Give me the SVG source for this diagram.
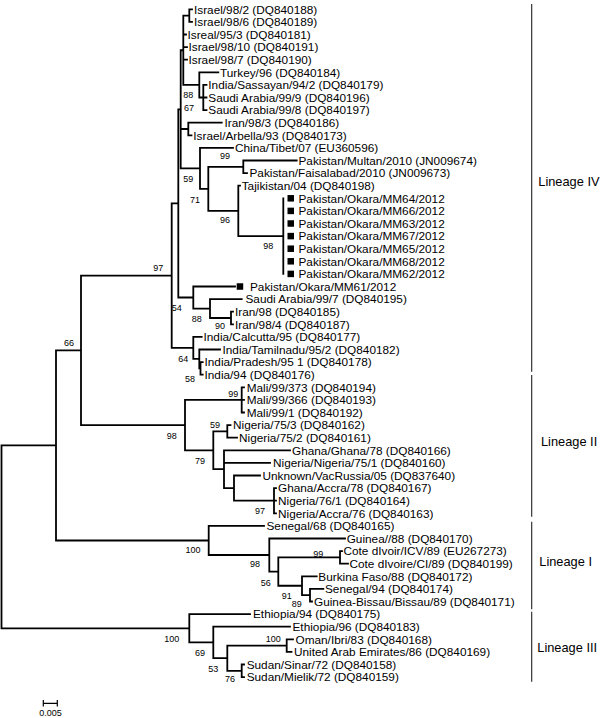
<svg xmlns="http://www.w3.org/2000/svg" width="600" height="718" viewBox="0 0 600 718">
<style>
.lf{font-family:"Liberation Sans",Arial,sans-serif;font-size:11.8px;fill:#000}
.bs{font-family:"Liberation Sans",Arial,sans-serif;font-size:9px;fill:#000;text-anchor:middle}
.ln{font-family:"Liberation Sans",Arial,sans-serif;font-size:12.8px;fill:#000}
.tree{fill:none;stroke:#000;stroke-width:1.8;stroke-linecap:square}
.br{fill:none;stroke:#222;stroke-width:1.1}
.sq{fill:#000}
</style>
<rect width="600" height="718" fill="#fff"/>
<g id="connectors">
<path class="tree" d="
M1.5 445.45V628.3 M56 350.4V540.5 M81 275.65V425.1 M171.7 203.4V347.9 M178.3 109.3V297.5 M180.7 50.25V168.4
M183.3 15.6V84.9 M189.3 9.3V21.9 M199.3 72.3V97.5 M203.3 84.9V110.1 M188.3 122.7V135.3 M200 147.9V188.85
M208.3 166.8V210.9 M243.3 160.5V173.1 M238.3 185.7V236.1 M283.3 198.3V273.9 M193.3 286.5V308.55 M210 299.1V318
M231 311.7V324.3 M193.3 336.9V358.95 M199.3 349.5V368.4 M200.5 362.1V374.7 M185 399.9V450.3 M241.7 387.3V412.5
M213.3 431.4V469.2 M227.3 425.1V437.7 M224 450.3V488.1 M234 475.5V500.7 M274 488.1V513.3 M208.7 525.9V555
M269.3 538.5V571.6 M278.3 557.4V585.75 M340 551.1V563.7 M302 576.3V595.2 M310 588.9V601.5 M189.3 614.1V642.45
M213.3 626.7V658.2 M227.3 645.6V670.8 M286.7 639.3V651.9 M241.7 664.5V677.1
M1.5 445.45H56 M1.5 628.3H189.3 M56 350.4H81 M56 540.5H208.7 M81 275.65H171.7 M81 425.1H185
M171.7 203.4H178.3 M171.7 347.9H193.3 M178.3 109.3H180.7 M178.3 297.5H193.3 M180.7 50.25H183.3 M180.7 129H188.3 M180.7 168.4H200
M183.3 15.6H189.3 M189.3 9.3H192 M189.3 21.9H192 M183.3 34.5H186 M183.3 47.1H187 M183.3 59.7H187
M183.3 84.9H199.3 M199.3 72.3H218.3 M199.3 97.5H203.3 M203.3 84.9H206.5 M203.3 97.5H206.5 M203.3 110.1H206.5
M188.3 122.7H221.7 M188.3 135.3H191.5 M200 147.9H233 M200 188.85H208.3 M208.3 166.8H243.3 M243.3 160.5H296.7 M243.3 173.1H247
M208.3 210.9H238.3 M238.3 185.7H240 M238.3 236.1H283.3
M193.3 286.5H235 M193.3 308.55H210 M210 299.1H241.7 M210 318H231 M231 311.7H233 M231 324.3H233
M193.3 336.9H201.7 M193.3 358.95H199.3 M199.3 349.5H220 M199.3 368.4H200.5 M200.5 362.1H202.7 M200.5 374.7H202.7
M185 399.9H241.7 M241.7 387.3H244 M241.7 399.9H244 M241.7 412.5H244
M185 450.3H213.3 M213.3 431.4H227.3 M227.3 425.1H230.5 M227.3 437.7H237 M213.3 469.2H224
M224 450.3H290 M224 462.9H270 M224 488.1H234 M234 475.5H260 M234 500.7H274 M274 488.1H276 M274 500.7H276 M274 513.3H276
M208.7 525.9H264 M208.7 555H269.3 M269.3 538.5H345 M269.3 571.6H278.3 M278.3 557.4H340 M340 551.1H342 M340 563.7H348
M278.3 585.75H302 M302 576.3H316.7 M302 595.2H310 M310 588.9H323.3 M310 601.5H312
M189.3 614.1H250 M189.3 642.45H213.3 M213.3 626.7H290 M213.3 658.2H227.3 M227.3 645.6H286.7 M286.7 639.3H293 M286.7 651.9H291.5
M227.3 670.8H241.7 M241.7 664.5H244 M241.7 677.1H244"/>
</g>
<g id="leaves">
<g id="n0"><text class="lf" x="194" y="13.5">Israel/98/2 (DQ840188)</text></g>
<g id="n1"><text class="lf" x="194" y="26.1">Israel/98/6 (DQ840189)</text></g>
<g id="n2"><text class="lf" x="187.5" y="38.7">Isreal/95/3 (DQ840181)</text></g>
<g id="n3"><text class="lf" x="188.5" y="51.3">Israel/98/10 (DQ840191)</text></g>
<g id="n4"><text class="lf" x="188.5" y="63.9">Israel/98/7 (DQ840190)</text></g>
<g id="n5"><text class="lf" x="220" y="76.5">Turkey/96 (DQ840184)</text></g>
<g id="n6"><text class="lf" x="208.3" y="89.1">India/Sassayan/94/2 (DQ840179)</text></g>
<g id="n7"><text class="lf" x="208.3" y="101.7">Saudi Arabia/99/9 (DQ840196)</text></g>
<g id="n8"><text class="lf" x="208.3" y="114.3">Saudi Arabia/99/8 (DQ840197)</text></g>
<g id="n9"><text class="lf" x="224.5" y="126.9">Iran/98/3 (DQ840186)</text></g>
<g id="n10"><text class="lf" x="193.3" y="139.5">Israel/Arbella/93 (DQ840173)</text></g>
<g id="n11"><text class="lf" x="235" y="152.1">China/Tibet/07 (EU360596)</text></g>
<g id="n12"><text class="lf" x="298.5" y="164.7">Pakistan/Multan/2010 (JN009674)</text></g>
<g id="n13"><text class="lf" x="249.5" y="177.3">Pakistan/Faisalabad/2010 (JN009673)</text></g>
<g id="n14"><text class="lf" x="241.7" y="189.9">Tajikistan/04 (DQ840198)</text></g>
<g id="n15"><rect class="sq" x="287.5" y="195.05" width="6.5" height="6.5"/><text class="lf" x="298.5" y="202.5">Pakistan/Okara/MM64/2012</text></g>
<g id="n16"><rect class="sq" x="287.5" y="207.65" width="6.5" height="6.5"/><text class="lf" x="298.5" y="215.1">Pakistan/Okara/MM66/2012</text></g>
<g id="n17"><rect class="sq" x="287.5" y="220.25" width="6.5" height="6.5"/><text class="lf" x="298.5" y="227.7">Pakistan/Okara/MM63/2012</text></g>
<g id="n18"><rect class="sq" x="287.5" y="232.85" width="6.5" height="6.5"/><text class="lf" x="298.5" y="240.3">Pakistan/Okara/MM67/2012</text></g>
<g id="n19"><rect class="sq" x="287.5" y="245.45" width="6.5" height="6.5"/><text class="lf" x="298.5" y="252.9">Pakistan/Okara/MM65/2012</text></g>
<g id="n20"><rect class="sq" x="287.5" y="258.05" width="6.5" height="6.5"/><text class="lf" x="298.5" y="265.5">Pakistan/Okara/MM68/2012</text></g>
<g id="n21"><rect class="sq" x="287.5" y="270.65" width="6.5" height="6.5"/><text class="lf" x="298.5" y="278.1">Pakistan/Okara/MM62/2012</text></g>
<g id="n22"><rect class="sq" x="236.7" y="283.25" width="6.5" height="6.5"/><text class="lf" x="250" y="290.7">Pakistan/Okara/MM61/2012</text></g>
<g id="n23"><text class="lf" x="245.5" y="303.3">Saudi Arabia/99/7 (DQ840195)</text></g>
<g id="n24"><text class="lf" x="235" y="315.9">Iran/98 (DQ840185)</text></g>
<g id="n25"><text class="lf" x="235" y="328.5">Iran/98/4 (DQ840187)</text></g>
<g id="n26"><text class="lf" x="203.5" y="341.1">India/Calcutta/95 (DQ840177)</text></g>
<g id="n27"><text class="lf" x="222.5" y="353.7">India/Tamilnadu/95/2 (DQ840182)</text></g>
<g id="n28"><text class="lf" x="204.5" y="366.3">India/Pradesh/95 1 (DQ840178)</text></g>
<g id="n29"><text class="lf" x="204.5" y="378.9">India/94 (DQ840176)</text></g>
<g id="n30"><text class="lf" x="246.7" y="391.5">Mali/99/373 (DQ840194)</text></g>
<g id="n31"><text class="lf" x="246.7" y="404.1">Mali/99/366 (DQ840193)</text></g>
<g id="n32"><text class="lf" x="246.7" y="416.7">Mali/99/1 (DQ840192)</text></g>
<g id="n33"><text class="lf" x="233" y="429.3">Nigeria/75/3 (DQ840162)</text></g>
<g id="n34"><text class="lf" x="239" y="441.9">Nigeria/75/2 (DQ840161)</text></g>
<g id="n35"><text class="lf" x="292" y="454.5">Ghana/Ghana/78 (DQ840166)</text></g>
<g id="n36"><text class="lf" x="273" y="467.1">Nigeria/Nigeria/75/1 (DQ840160)</text></g>
<g id="n37"><text class="lf" x="262.5" y="479.7">Unknown/VacRussia/05 (DQ837640)</text></g>
<g id="n38"><text class="lf" x="278" y="492.3">Ghana/Accra/78 (DQ840167)</text></g>
<g id="n39"><text class="lf" x="278" y="504.9">Nigeria/76/1 (DQ840164)</text></g>
<g id="n40"><text class="lf" x="278" y="517.5">Nigeria/Accra/76 (DQ840163)</text></g>
<g id="n41"><text class="lf" x="266.5" y="530.1">Senegal/68 (DQ840165)</text></g>
<g id="n42"><text class="lf" x="346.7" y="542.7">Guinea//88 (DQ840170)</text></g>
<g id="n43"><text class="lf" x="343.5" y="555.3">Cote dIvoir/ICV/89 (EU267273)</text></g>
<g id="n44"><text class="lf" x="349.5" y="567.9">Cote dIvoire/CI/89 (DQ840199)</text></g>
<g id="n45"><text class="lf" x="318.3" y="580.5">Burkina Faso/88 (DQ840172)</text></g>
<g id="n46"><text class="lf" x="325" y="593.1">Senegal/94 (DQ840174)</text></g>
<g id="n47"><text class="lf" x="314" y="605.7">Guinea-Bissau/Bissau/89 (DQ840171)</text></g>
<g id="n48"><text class="lf" x="253" y="618.3">Ethiopia/94 (DQ840175)</text></g>
<g id="n49"><text class="lf" x="292.5" y="630.9">Ethiopia/96 (DQ840183)</text></g>
<g id="n50"><text class="lf" x="295.5" y="643.5">Oman/Ibri/83 (DQ840168)</text></g>
<g id="n51"><text class="lf" x="294" y="656.1">United Arab Emirates/86 (DQ840169)</text></g>
<g id="n52"><text class="lf" x="246.7" y="668.7">Sudan/Sinar/72 (DQ840158)</text></g>
<g id="n53"><text class="lf" x="246.7" y="681.3">Sudan/Mielik/72 (DQ840159)</text></g>
</g>
<g id="support">
<text class="bs" x="188.3" y="97.5">88</text>
<text class="bs" x="189" y="111.2">67</text>
<text class="bs" x="225" y="158.9">99</text>
<text class="bs" x="188.3" y="181.5">59</text>
<text class="bs" x="195" y="202.5">71</text>
<text class="bs" x="225" y="223.2">96</text>
<text class="bs" x="268.3" y="249.2">98</text>
<text class="bs" x="158.3" y="270.9">97</text>
<text class="bs" x="176.7" y="310.5">54</text>
<text class="bs" x="196.7" y="322.2">88</text>
<text class="bs" x="220" y="329.2">90</text>
<text class="bs" x="183.3" y="361.5">64</text>
<text class="bs" x="190" y="381.5">58</text>
<text class="bs" x="69" y="345.9">66</text>
<text class="bs" x="233.3" y="396.5">99</text>
<text class="bs" x="171.7" y="439.2">98</text>
<text class="bs" x="215" y="428.2">59</text>
<text class="bs" x="200" y="463.9">79</text>
<text class="bs" x="260" y="513.9">97</text>
<text class="bs" x="193" y="553.2">100</text>
<text class="bs" x="255" y="567.2">98</text>
<text class="bs" x="318.3" y="557.2">99</text>
<text class="bs" x="265.7" y="585.9">56</text>
<text class="bs" x="286.7" y="599.2">91</text>
<text class="bs" x="296.7" y="606.6">89</text>
<text class="bs" x="171.7" y="642.2">100</text>
<text class="bs" x="200" y="655.9">69</text>
<text class="bs" x="273.3" y="642.2">100</text>
<text class="bs" x="213.3" y="671.5">53</text>
<text class="bs" x="230" y="682.2">76</text>
</g>
<g id="lineages">
<path class="br" d="M531.7 4V371.7 M531.7 375V516.7 M531.7 521.7V609.3 M531.7 611.7V681.7"/>
<text class="ln" x="538.3" y="186.3">Lineage IV</text>
<text class="ln" x="541" y="445.6">Lineage II</text>
<text class="ln" x="539.3" y="566.3">Lineage I</text>
<text class="ln" x="537.3" y="651.9">Lineage III</text>
</g>
<g id="scale">
<path class="br" d="M43.3 703.3H57.3 M43.3 700V706.6 M57.3 700V706.6" style="stroke:#000;stroke-width:1.2"/>
<text class="bs" x="50.5" y="716">0.005</text>
</g>
</svg>
